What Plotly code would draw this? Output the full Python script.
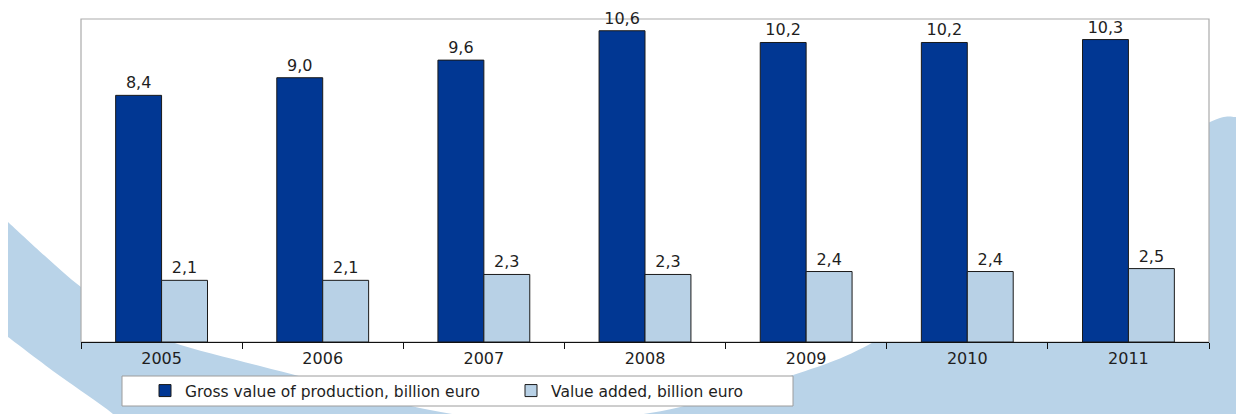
import plotly.graph_objects as go

# ---- data -------------------------------------------------------------
years = ["2005", "2006", "2007", "2008", "2009", "2010", "2011"]
gross_production = [8.4, 9.0, 9.6, 10.6, 10.2, 10.2, 10.3]
value_added = [2.1, 2.1, 2.3, 2.3, 2.4, 2.4, 2.5]
series_names = ["Gross value of production, billion euro",
                "Value added, billion euro"]

# ---- page geometry ----------------------------------------------------
W, H = 1240, 414
ML, MR, MT, MB = 81, 31, 19, 72
PW = W - ML - MR
PH = H - MT - MB

DARK = "#013793"
LIGHT = "#b8d1e6"
SWOOSH = "#b9d3e8"
FONT = "DejaVu Sans, Arial, sans-serif"


def px(x):
    return (x - ML) / PW


def py(y):
    return (H - MB - y) / PH


def smooth_path(points):
    """Catmull-Rom spline through pixel points, as SVG cubic segments in paper units."""
    pts = [(px(x), py(y)) for x, y in points]
    out = []
    for i in range(len(pts) - 1):
        p0 = pts[i - 1] if i > 0 else pts[i]
        p1, p2 = pts[i], pts[i + 1]
        p3 = pts[i + 2] if i + 2 < len(pts) else pts[i + 1]
        c1 = (p1[0] + (p2[0] - p0[0]) / 6, p1[1] + (p2[1] - p0[1]) / 6)
        c2 = (p2[0] - (p3[0] - p1[0]) / 6, p2[1] - (p3[1] - p1[1]) / 6)
        out.append(f"C {c1[0]:.5f},{c1[1]:.5f} {c2[0]:.5f},{c2[1]:.5f} {p2[0]:.5f},{p2[1]:.5f}")
    return pts[0], " ".join(out)


# decorative background band sweeping under the chart
upper_edge = [(8, 222), (45, 256), (81, 287), (125, 317), (172, 342), (260, 366),
              (350, 389), (430, 410), (540, 424), (650, 413), (720, 396),
              (787, 377), (870, 344), (1000, 262), (1120, 172), (1210, 122), (1236, 117)]
lower_edge = [(8, 337), (60, 376), (113, 414), (150, 450)]

start, upper_curve = smooth_path(upper_edge)
lstart, lower_curve = smooth_path(list(reversed(lower_edge)))
band_path = (
    f"M {start[0]:.5f},{start[1]:.5f} {upper_curve} "
    f"L {px(1236):.5f},{py(450):.5f} L {lstart[0]:.5f},{lstart[1]:.5f} {lower_curve} Z"
)

fig = go.Figure()
colors = [DARK, LIGHT]
for name, vals, col in zip(series_names, [gross_production, value_added], colors):
    fig.add_trace(go.Bar(
        x=years, y=vals, name=name,
        marker=dict(color=col, line=dict(color="#1a1a1a", width=1)),
        texttemplate="%{y:.1f}", textposition="outside",
        textfont=dict(family=FONT, size=16, color="#1e1e1e"),
        cliponaxis=False,
    ))

fig.update_layout(
    width=W, height=H,
    margin=dict(l=ML, r=MR, t=MT, b=MB, pad=0, autoexpand=False),
    paper_bgcolor="white", plot_bgcolor="white",
    separators=", ",
    barmode="group", bargap=0.43, bargroupgap=0,
    font=dict(family=FONT, color="#1e1e1e"),
    showlegend=True,
    legend=dict(
        orientation="h", x=px(145), xanchor="left", y=py(391), yanchor="middle",
        bgcolor="rgba(0,0,0,0)", borderwidth=0,
        font=dict(family=FONT, size=15.5, color="#1e1e1e"),
        entrywidth=321, entrywidthmode="pixels",
    ),
    xaxis=dict(
        type="category", showgrid=False, showline=True, linecolor="#111111", linewidth=1,
        ticks="outside", tickson="boundaries", ticklen=6, tickcolor="#111111",
        ticklabelstandoff=2,
        tickfont=dict(family=FONT, size=16, color="#1e1e1e"),
    ),
    yaxis=dict(range=[0, 11], visible=False, showgrid=False, zeroline=False),
    shapes=[
        dict(type="path", path=band_path, xref="paper", yref="paper",
             fillcolor=SWOOSH, line=dict(width=0), layer="below"),
        dict(type="rect", xref="paper", yref="paper", x0=0, x1=1, y0=0, y1=1,
             fillcolor="white", line=dict(color="#ababab", width=1.2), layer="below"),
        dict(type="rect", xref="paper", yref="paper",
             x0=px(122), x1=px(793), y0=py(406), y1=py(376),
             fillcolor="white", line=dict(color="#9c9c9c", width=1), layer="below"),
    ],
)

fig.write_html("out.html")
